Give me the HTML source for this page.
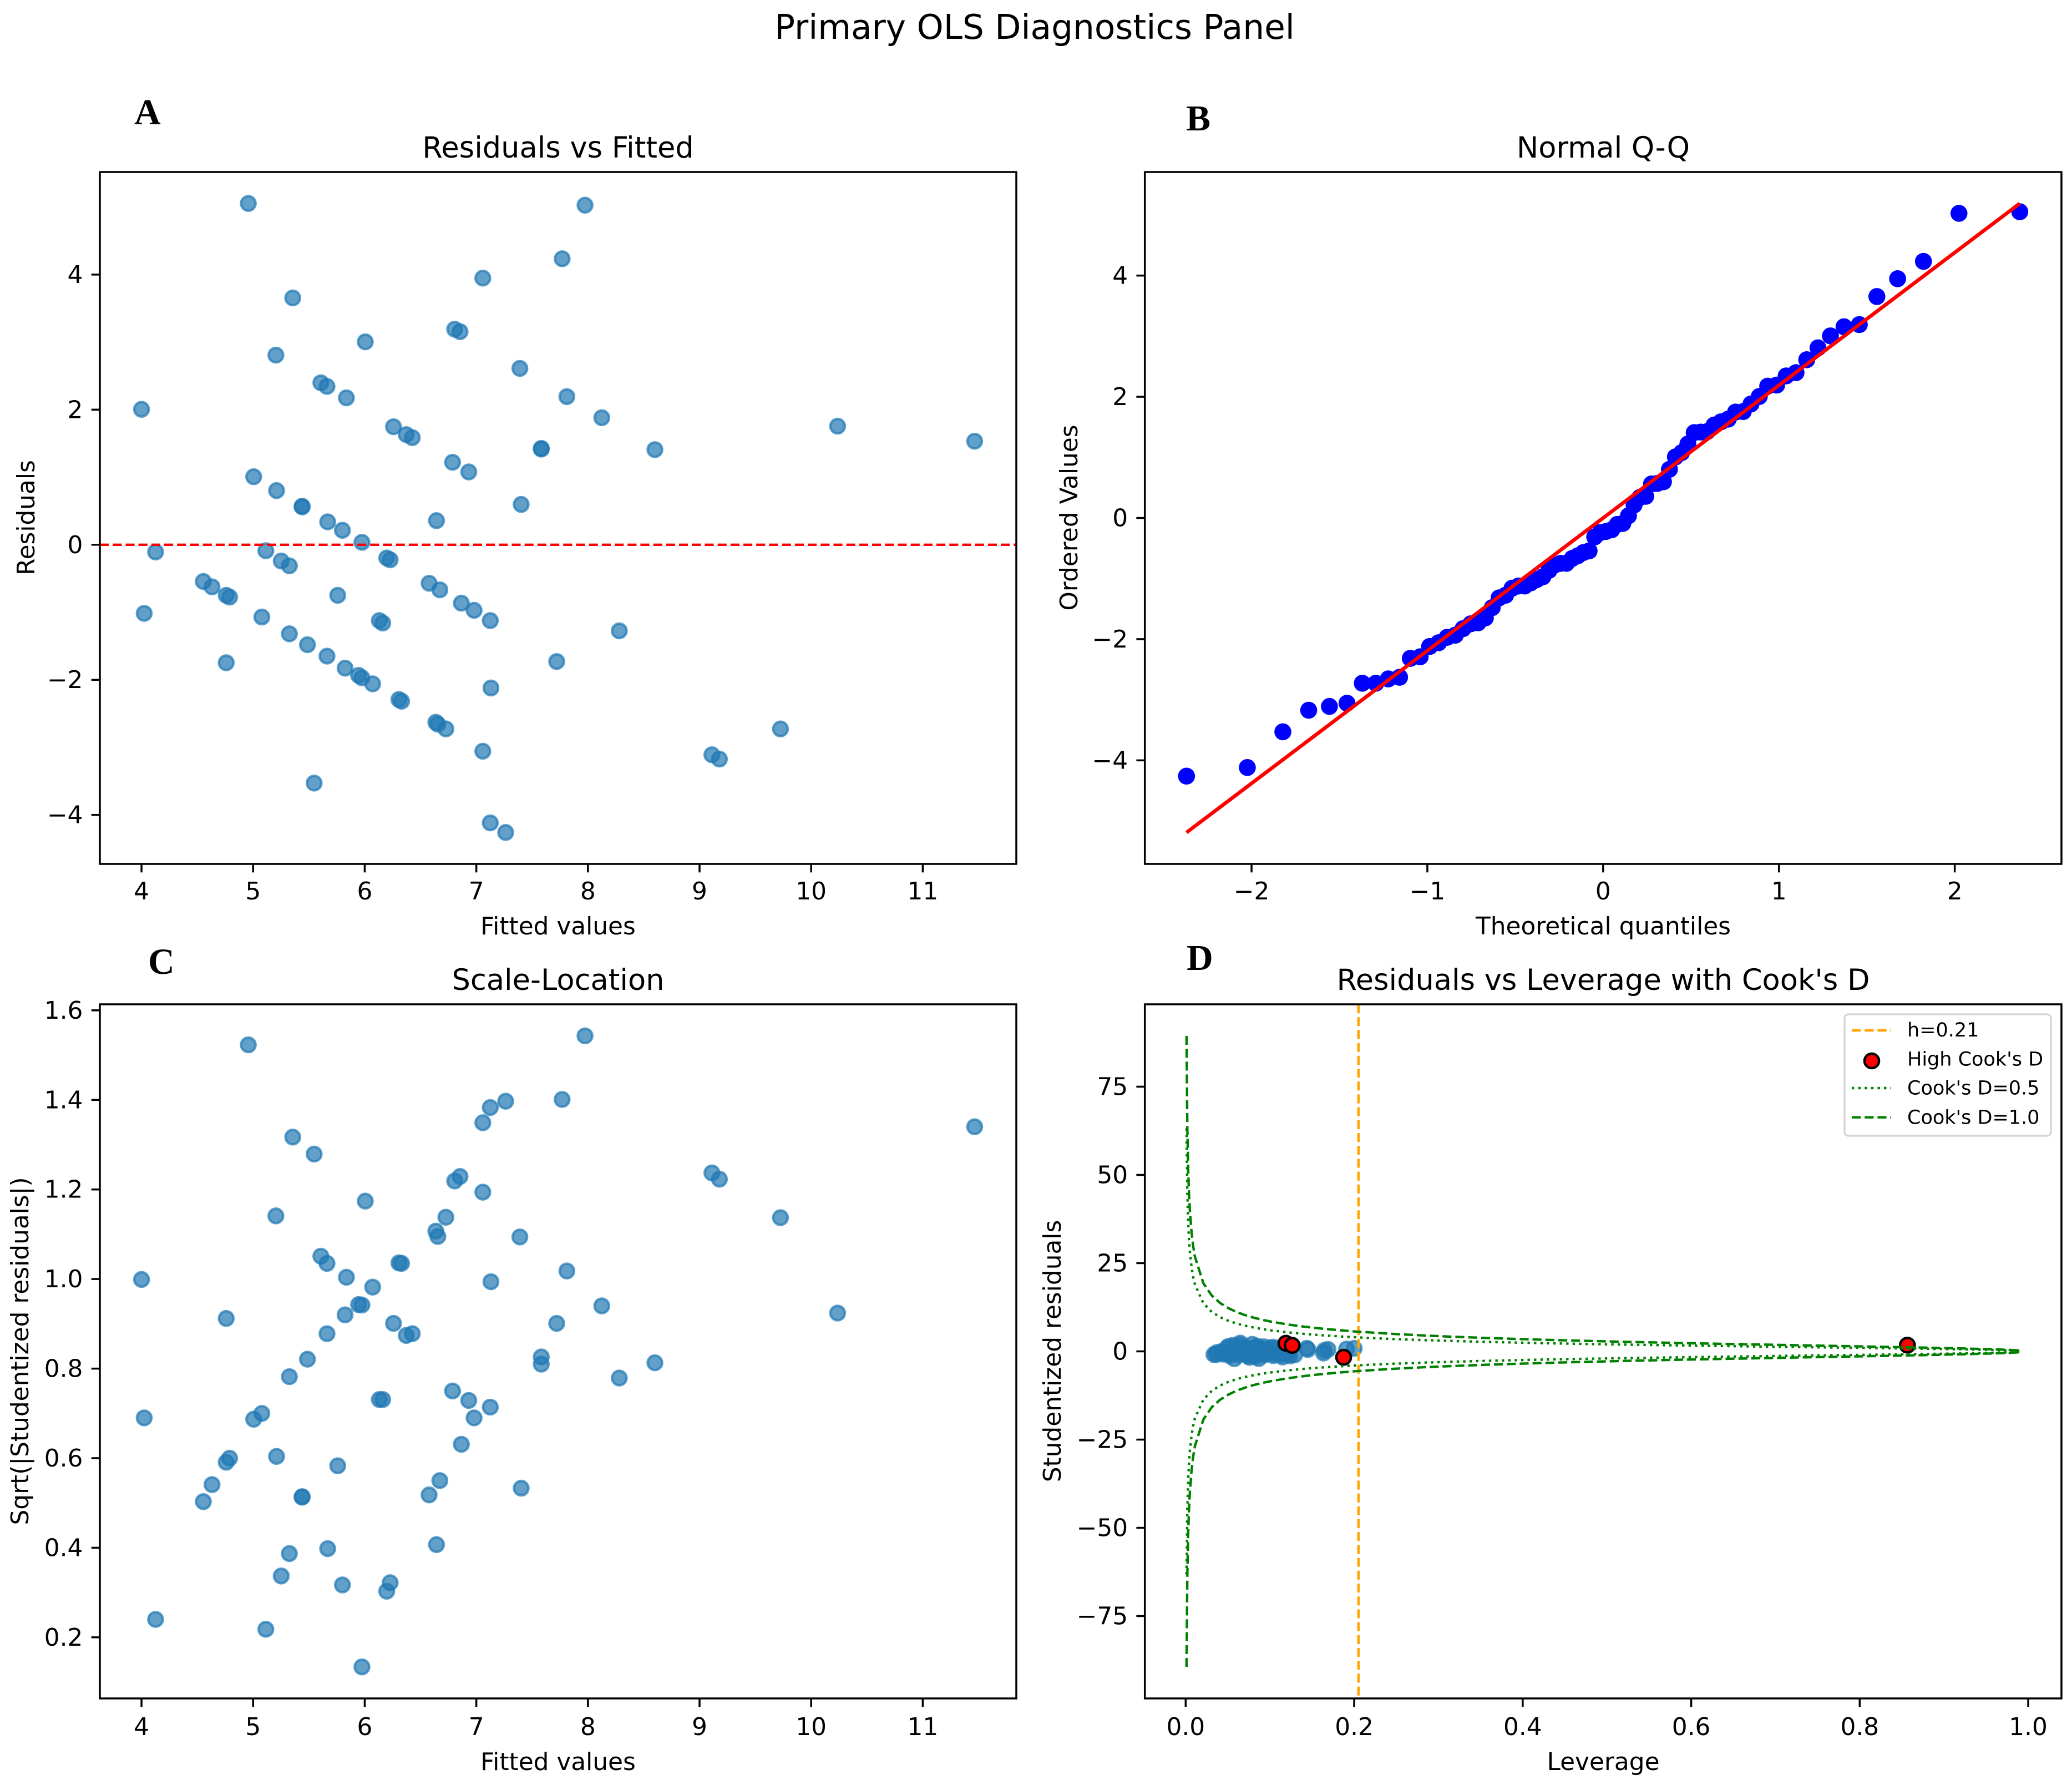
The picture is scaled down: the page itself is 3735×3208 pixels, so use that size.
<!DOCTYPE html>
<html lang="en">
<head>
<meta charset="utf-8">
<title>Primary OLS Diagnostics Panel</title>
<style>
html,body{margin:0;padding:0;background:#fff;}
svg{display:block;}
text{font-family:"DejaVu Sans","Liberation Sans",sans-serif;fill:#000;}
.tick{font-size:43.8px;}
.axis-label{font-size:43.8px;}
.title{font-size:52.6px;text-anchor:middle;}
.letter{font-family:"Liberation Serif",serif;font-weight:bold;font-size:66px;}
.legend-text{font-size:35px;}
.frame{fill:none;stroke:#000;stroke-width:3.5;}
</style>
</head>
<body>
<svg id="figure" xmlns="http://www.w3.org/2000/svg" width="3735" height="3208" viewBox="0 0 3735 3208">
<rect x="0" y="0" width="3735" height="3208" fill="#fff"/>
<text x="1865" y="70" text-anchor="middle" font-size="61.3">Primary OLS Diagnostics Panel</text>

<g id="panel-a">
  <text class="letter" x="242" y="224">A</text>
  <text class="title" x="1006" y="284">Residuals vs Fitted</text>
  <g id="marks-a"></g>
  <rect class="frame" x="180" y="310" width="1652" height="1247"/>
  <g id="ticks-a"></g>
  <text class="axis-label" x="1006" y="1684" text-anchor="middle">Fitted values</text>
  <text class="axis-label" transform="translate(62 933) rotate(-90)" text-anchor="middle">Residuals</text>
</g>

<g id="panel-b">
  <text class="letter" x="2138" y="235">B</text>
  <text class="title" x="2890" y="284">Normal Q-Q</text>
  <g id="marks-b"></g>
  <rect class="frame" x="2063.7" y="310" width="1652.3" height="1247"/>
  <g id="ticks-b"></g>
  <text class="axis-label" x="2890" y="1684" text-anchor="middle">Theoretical quantiles</text>
  <text class="axis-label" transform="translate(1942 933) rotate(-90)" text-anchor="middle">Ordered Values</text>
</g>

<g id="panel-c">
  <text class="letter" x="267" y="1755">C</text>
  <text class="title" x="1006" y="1784">Scale-Location</text>
  <g id="marks-c"></g>
  <rect class="frame" x="180" y="1810" width="1652" height="1251"/>
  <g id="ticks-c"></g>
  <text class="axis-label" x="1006" y="3190" text-anchor="middle">Fitted values</text>
  <text class="axis-label" transform="translate(51 2435) rotate(-90)" text-anchor="middle">Sqrt(|Studentized residuals|)</text>
</g>

<g id="panel-d">
  <text class="letter" x="2139" y="1748">D</text>
  <text class="title" x="2890" y="1784">Residuals vs Leverage with Cook's D</text>
  <g id="marks-d"></g>
  <rect class="frame" x="2063.7" y="1810" width="1652.3" height="1251"/>
  <g id="ticks-d"></g>
  <text class="axis-label" x="2890" y="3190" text-anchor="middle">Leverage</text>
  <text class="axis-label" transform="translate(1912 2435) rotate(-90)" text-anchor="middle">Studentized residuals</text>
  <g id="legend">
    <rect x="3325" y="1828" width="372" height="219" rx="7" fill="#fff" fill-opacity="0.8" stroke="#d6d6d6" stroke-width="3.5"/>
    <line x1="3338" x2="3409" y1="1857" y2="1857" stroke="#ffa500" stroke-width="4.38" stroke-dasharray="16.2 7"/>
    <text class="legend-text" x="3438" y="1868">h=0.21</text>
    <circle cx="3374" cy="1912" r="13.1" fill="#ff0000" stroke="#000" stroke-width="4.38"/>
    <text class="legend-text" x="3438" y="1920.7">High Cook's D</text>
    <line x1="3338" x2="3409" y1="1961" y2="1961" stroke="#008000" stroke-width="4.38" stroke-dasharray="4.38 7.23"/>
    <text class="legend-text" x="3438" y="1972.7">Cook's D=0.5</text>
    <line x1="3338" x2="3409" y1="2013.7" y2="2013.7" stroke="#008000" stroke-width="4.38" stroke-dasharray="16.2 7"/>
    <text class="legend-text" x="3438" y="2025.3">Cook's D=1.0</text>
  </g>
</g>
</svg>

<script>
// ---- chart data ----
const fittedValues = [4.957,7.974,7.769,7.058,5.355,6.806,6.854,6.005,5.204,7.390,5.607,5.662,5.836,7.811,4.000,8.124,10.237,6.258,6.372,6.426,11.465,7.582,7.582,8.600,6.787,6.932,5.005,5.210,5.439,5.439,7.402,6.643,5.668,5.800,5.975,4.126,5.114,5.252,5.325,6.197,6.228,4.554,4.632,6.577,6.673,4.759,4.789,5.758,6.866,6.980,4.024,5.078,7.125,6.131,6.161,8.281,5.325,5.487,5.662,4.759,7.720,5.824,5.945,5.975,6.071,7.131,6.306,6.330,6.637,6.655,6.727,9.725,7.058,9.111,9.178,5.547,7.125,7.263];
const residuals = [5.053,5.027,4.234,3.948,3.654,3.191,3.155,3.004,2.807,2.611,2.398,2.344,2.175,2.193,2.005,1.881,1.756,1.747,1.631,1.586,1.533,1.426,1.417,1.408,1.221,1.078,1.007,0.802,0.570,0.561,0.597,0.357,0.339,0.214,0.036,-0.107,-0.089,-0.241,-0.312,-0.196,-0.223,-0.544,-0.624,-0.570,-0.668,-0.749,-0.775,-0.749,-0.865,-0.971,-1.016,-1.070,-1.123,-1.123,-1.159,-1.275,-1.319,-1.480,-1.649,-1.747,-1.729,-1.827,-1.934,-1.970,-2.059,-2.121,-2.291,-2.317,-2.629,-2.656,-2.727,-2.727,-3.057,-3.110,-3.173,-3.529,-4.118,-4.260];
const sqrtStudentized = [1.523,1.543,1.401,1.349,1.317,1.219,1.229,1.174,1.141,1.094,1.051,1.035,1.004,1.018,0.999,0.940,0.924,0.901,0.874,0.878,1.340,0.826,0.810,0.813,0.750,0.729,0.687,0.604,0.514,0.513,0.533,0.407,0.398,0.317,0.134,0.240,0.218,0.337,0.387,0.303,0.322,0.503,0.541,0.518,0.550,0.591,0.600,0.583,0.631,0.690,0.690,0.700,0.714,0.731,0.731,0.779,0.782,0.821,0.878,0.912,0.901,0.920,0.943,0.942,0.982,0.994,1.036,1.035,1.107,1.095,1.138,1.137,1.194,1.237,1.223,1.279,1.383,1.397];
const theoreticalQuantiles = [-2.37,-2.024,-1.822,-1.675,-1.557,-1.457,-1.37,-1.293,-1.222,-1.158,-1.097,-1.041,-0.987,-0.936,-0.888,-0.841,-0.797,-0.753,-0.711,-0.67,-0.631,-0.592,-0.555,-0.518,-0.482,-0.446,-0.411,-0.377,-0.343,-0.308,-0.275,-0.242,-0.209,-0.176,-0.144,-0.112,-0.08,-0.048,-0.016,0.016,0.048,0.08,0.112,0.144,0.176,0.209,0.242,0.275,0.308,0.343,0.377,0.411,0.446,0.482,0.518,0.555,0.592,0.631,0.67,0.711,0.753,0.797,0.841,0.888,0.936,0.987,1.041,1.097,1.158,1.222,1.293,1.37,1.457,1.557,1.675,1.822,2.024,2.37];
const orderedValues = [-4.26,-4.118,-3.529,-3.173,-3.11,-3.057,-2.727,-2.727,-2.656,-2.629,-2.317,-2.291,-2.121,-2.059,-1.97,-1.934,-1.827,-1.747,-1.729,-1.649,-1.48,-1.319,-1.275,-1.159,-1.123,-1.123,-1.07,-1.016,-0.971,-0.865,-0.775,-0.749,-0.749,-0.668,-0.624,-0.57,-0.544,-0.312,-0.241,-0.223,-0.196,-0.107,-0.089,0.036,0.214,0.339,0.357,0.561,0.57,0.597,0.802,1.007,1.078,1.221,1.408,1.417,1.426,1.533,1.586,1.631,1.747,1.756,1.881,2.005,2.175,2.193,2.344,2.398,2.611,2.807,3.004,3.155,3.191,3.654,3.948,4.234,5.027,5.053];
const qqLineX = [-2.37,2.37];
const qqLineY = [-5.19,5.19];
const leverageValues = [0.0647,0.119,0.079,0.064,0.056,0.1264,0.085,0.0505,0.093,0.104,0.072,0.06,0.083,0.1,0.0493,0.1438,0.2,0.078,0.068,0.071,0.8566,0.108,0.089,0.191,0.169,0.145,0.075,0.056,0.093,0.0931,0.1647,0.062,0.084,0.067,0.073,0.042,0.055,0.061,0.069,0.079,0.087,0.046,0.051,0.102,0.111,0.037,0.0585,0.065,0.116,0.1636,0.048,0.076,0.119,0.084,0.091,0.053,0.106,0.098,0.044,0.122,0.07,0.08,0.0335,0.0362,0.1125,0.1295,0.062,0.093,0.052,0.104,0.074,0.124,0.083,0.1875,0.115,0.0757,0.0867,0.0577];
const studentizedValues = [2.36,2.3,2.0,1.82,1.73,1.7,1.51,1.38,1.3,1.2,1.1,1.07,1.01,1.04,1.0,0.88,0.85,0.81,0.76,0.77,1.75,0.68,0.66,0.66,0.56,0.53,0.47,0.36,0.26,0.26,0.28,0.17,0.16,0.1,0.02,-0.06,-0.05,-0.11,-0.15,-0.09,-0.1,-0.25,-0.29,-0.27,-0.3,-0.35,-0.36,-0.34,-0.4,-0.48,-0.48,-0.49,-0.51,-0.53,-0.53,-0.61,-0.61,-0.67,-0.77,-0.83,-0.81,-0.85,-0.89,-0.89,-0.96,-0.99,-1.07,-1.07,-1.23,-1.2,-1.3,-1.29,-1.43,-1.68,-1.6,-1.7,-2.05,-2.1];
const highCookLeverage = [0.119,0.1264,0.1875,0.8566];
const highCookStudentized = [2.3,1.7,-1.68,1.75];
const leverageThreshold = [0.2051];
const cookGrid = [0.001,0.002,0.003,0.004,0.005,0.007,0.009,0.011,0.021,0.031,0.041,0.051,0.061,0.071,0.081,0.091,0.101,0.121,0.141,0.161,0.181,0.201,0.241,0.281,0.321,0.361,0.401,0.441,0.481,0.521,0.561,0.601,0.641,0.681,0.721,0.761,0.801,0.841,0.881,0.921,0.961,0.99];
const cookHalfUpper = [63.2,44.68,36.46,31.56,28.21,23.82,20.99,18.96,13.65,11.18,9.67,8.63,7.85,7.23,6.74,6.32,5.97,5.39,4.94,4.57,4.26,3.99,3.55,3.20,2.91,2.66,2.45,2.25,2.08,1.92,1.77,1.63,1.50,1.37,1.24,1.12,1.00,0.87,0.74,0.59,0.40,0.20];
const cookOneUpper = [89.4,63.18,51.56,44.63,39.9,33.69,29.68,26.82,19.31,15.81,13.68,12.20,11.10,10.23,9.53,8.94,8.44,7.62,6.98,6.46,6.02,5.64,5.02,4.52,4.11,3.76,3.46,3.18,2.94,2.71,2.50,2.30,2.12,1.94,1.76,1.58,1.41,1.23,1.04,0.83,0.57,0.28];
const fittedTicks = [4,5,6,7,8,9,10,11];
const fittedTickLabels = ["4","5","6","7","8","9","10","11"];
const residualTicks = [-4,-2,0,2,4];
const residualTickLabels = ["\u22124","\u22122","0","2","4"];
const quantileTicks = [-2,-1,0,1,2];
const quantileTickLabels = ["\u22122","\u22121","0","1","2"];
const scaleTicks = [0.2,0.4,0.6,0.8,1.0,1.2,1.4,1.6];
const scaleTickLabels = ["0.2","0.4","0.6","0.8","1.0","1.2","1.4","1.6"];
const leverageTicks = [0,0.2,0.4,0.6,0.8,1.0];
const leverageTickLabels = ["0.0","0.2","0.4","0.6","0.8","1.0"];
const studentizedTicks = [-75,-50,-25,0,25,50,75];
const studentizedTickLabels = ["\u221275","\u221250","\u221225","0","25","50","75"];

// ---- helpers ----
const NS = "http://www.w3.org/2000/svg";
function make(tag, parentId, attrs) {
  const node = document.createElementNS(NS, tag);
  for (const key in attrs) node.setAttribute(key, attrs[key]);
  document.getElementById(parentId).appendChild(node);
  return node;
}
function extent(list) {
  const lo = Math.min.apply(null, list);
  const hi = Math.max.apply(null, list);
  const pad = (hi - lo) * 0.05;
  return [lo - pad, hi + pad];
}
function linearScale(domain, a, b) {
  return function (v) { return a + (v - domain[0]) / (domain[1] - domain[0]) * (b - a); };
}
function pathFrom(xs, ys, sx, sy, sign) {
  return xs.map(function (v, i) {
    return (i ? "L" : "M") + sx(v).toFixed(2) + " " + sy(sign * ys[i]).toFixed(2);
  }).join(" ");
}
function drawTicks(id, box, sx, sy, xt, xl, yt, yl) {
  xt.forEach(function (v, i) {
    const px = sx(v);
    const mark = make("line", id, {x1: px, x2: px, y1: box.b, y2: box.b + 15.3, stroke: "#000", "stroke-width": 3.5});
    
    
    const label = make("text", id, {class: "tick", x: px, y: box.tickY, "text-anchor": "middle"});
    label.textContent = xl[i];
    
    
  });
  yt.forEach(function (v, i) {
    const py = sy(v);
    const mark = make("line", id, {x1: box.l - 15.3, x2: box.l, y1: py, y2: py, stroke: "#000", "stroke-width": 3.5});
    
    
    const label = make("text", id, {class: "tick", x: box.l - 30.6, y: py + 15, "text-anchor": "end"});
    label.textContent = yl[i];
    
    
  });
}
function drawScatter(id, xs, ys, sx, sy, name) {
  xs.forEach(function (v, i) {
    const dot = make("circle", id, {cx: sx(v), cy: sy(ys[i]), r: 13.1, fill: "#1f77b4", "fill-opacity": 0.7, stroke: "#1f77b4", "stroke-opacity": 0.7, "stroke-width": 4.38});
    
    
  });
}

// ---- panel A ----
const boxA = {l: 180, r: 1832, t: 310, b: 1557, tickY: 1621};
const ax = linearScale(extent(fittedValues), boxA.l, boxA.r);
const ay = linearScale(extent(residuals), boxA.b, boxA.t);
drawScatter("marks-a", fittedValues, residuals, ax, ay, "residual-point");
const zeroLine = make("line", "marks-a", {x1: boxA.l, x2: boxA.r, y1: ay(0), y2: ay(0), stroke: "#ff0000", "stroke-width": 4.38, "stroke-dasharray": "16.2 7"});


drawTicks("ticks-a", boxA, ax, ay, fittedTicks, fittedTickLabels, residualTicks, residualTickLabels);

// ---- panel B ----
const boxB = {l: 2063.7, r: 3716, t: 310, b: 1557, tickY: 1621};
const bx = linearScale(extent(theoreticalQuantiles.concat(qqLineX)), boxB.l, boxB.r);
const by = linearScale(extent(orderedValues.concat(qqLineY)), boxB.b, boxB.t);
theoreticalQuantiles.forEach(function (v, i) {
  const dot = make("circle", "marks-b", {cx: bx(v), cy: by(orderedValues[i]), r: 15.3, fill: "#0000ff"});
  
  
});
const qqLine = make("path", "marks-b", {d: pathFrom(qqLineX, qqLineY, bx, by, 1), fill: "none", stroke: "#ff0000", "stroke-width": 6.57});


drawTicks("ticks-b", boxB, bx, by, quantileTicks, quantileTickLabels, residualTicks, residualTickLabels);

// ---- panel C ----
const boxC = {l: 180, r: 1832, t: 1810, b: 3061, tickY: 3127};
const cx = linearScale(extent(fittedValues), boxC.l, boxC.r);
const cy = linearScale(extent(sqrtStudentized), boxC.b, boxC.t);
drawScatter("marks-c", fittedValues, sqrtStudentized, cx, cy, "scale-location-point");
drawTicks("ticks-c", boxC, cx, cy, fittedTicks, fittedTickLabels, scaleTicks, scaleTickLabels);

// ---- panel D ----
const boxD = {l: 2063.7, r: 3716, t: 1810, b: 3061, tickY: 3127};
const dx = linearScale(extent(cookGrid), boxD.l, boxD.r);
const dy = linearScale(extent(cookOneUpper.concat(cookOneUpper.map(function (v) { return -v; }))), boxD.b, boxD.t);
drawScatter("marks-d", leverageValues, studentizedValues, dx, dy, "leverage-point");
highCookLeverage.forEach(function (v, i) {
  const dot = make("circle", "marks-d", {cx: dx(v), cy: dy(highCookStudentized[i]), r: 13.1, fill: "#ff0000", stroke: "#000", "stroke-width": 4.38});
  
  
});
const thresholdLine = make("line", "marks-d", {x1: dx(leverageThreshold[0]), x2: dx(leverageThreshold[0]), y1: boxD.t, y2: boxD.b, stroke: "#ffa500", "stroke-width": 4.38, "stroke-dasharray": "16.2 7"});


[1, -1].forEach(function (sign) {
  const half = make("path", "marks-d", {d: pathFrom(cookGrid, cookHalfUpper, dx, dy, sign), fill: "none", stroke: "#008000", "stroke-width": 4.38, "stroke-dasharray": "4.38 7.23"});
  
  
});
[1, -1].forEach(function (sign) {
  const one = make("path", "marks-d", {d: pathFrom(cookGrid, cookOneUpper, dx, dy, sign), fill: "none", stroke: "#008000", "stroke-width": 4.38, "stroke-dasharray": "16.2 7"});
  
  
});
drawTicks("ticks-d", boxD, dx, dy, leverageTicks, leverageTickLabels, studentizedTicks, studentizedTickLabels);
</script>
</body>
</html>
